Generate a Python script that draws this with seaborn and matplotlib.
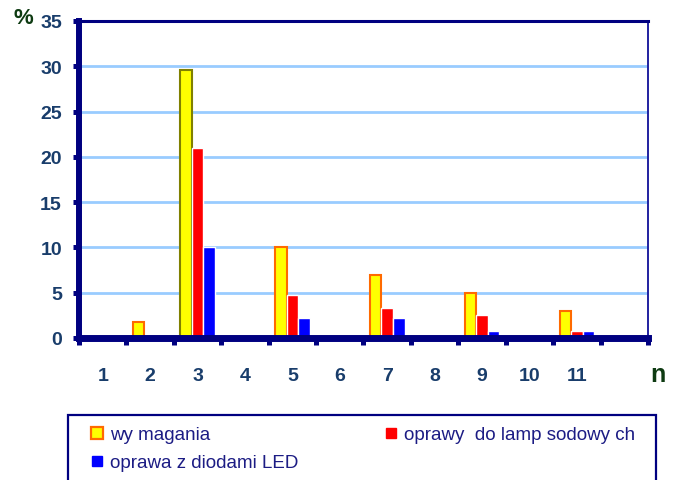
import matplotlib
matplotlib.use("Agg")
import matplotlib.pyplot as plt
from matplotlib.patches import Rectangle
from matplotlib.lines import Line2D
import seaborn as sns
import pandas as pd

# Share of observations (%) for each n, per series
categories = ["1", "2", "3", "4", "5", "6", "7", "8", "9", "10", "11"]
series_names = ["wy magania", "oprawy  do lamp sodowy ch", "oprawa z diodami LED"]
wymagania = [0, 1.8, 29.6, 0, 10.0, 0, 7.0, 0, 5.0, 0, 3.0]
sodowe = [0, 0, 21.0, 0, 4.8, 0, 3.3, 0, 2.5, 0, 0.8]
led = [0, 0, 10.0, 0, 2.2, 0, 2.2, 0, 0.8, 0, 0.8]
y_ticks = [0, 5, 10, 15, 20, 25, 30, 35]

navy = "#000080"
label_blue = "#193D6B"
dark_green = "#0E3B12"
bar_colors = ["#FFFF00", "#FF0000", "#0000FF"]

rows = []
for name, vals in zip(series_names, [wymagania, sodowe, led]):
    for c, v in zip(categories, vals):
        rows.append({"n": c, "pct": v, "seria": name})
df = pd.DataFrame(rows)

plt.rcParams["font.family"] = ["Liberation Sans", "DejaVu Sans"]

fig = plt.figure(figsize=(6.76, 4.81), dpi=100)
ax = fig.add_axes([79 / 676, 1 - 339 / 481, 569 / 676, 317 / 481])

sns.barplot(data=df, x="n", y="pct", hue="seria", order=categories,
            hue_order=series_names, palette=bar_colors, saturation=1,
            width=0.73, edgecolor="white", linewidth=1.0, legend=False, ax=ax)

# outline the requirement bars
for i, bar in enumerate(ax.containers[0]):
    bar.set_edgecolor("#808000" if i == 2 else "#FF6A00")
    bar.set_linewidth(1.5)

ax.set_xlim(-0.5, 11.5)
ax.set_ylim(0, 35)
ax.set_yticks(y_ticks)
ax.set_axisbelow(True)
ax.yaxis.grid(True, color="#99CCFF", linewidth=2.0)
ax.xaxis.grid(False)
ax.set_facecolor("white")

for side in ["left", "bottom", "top", "right"]:
    ax.spines[side].set_visible(True)
    ax.spines[side].set_color(navy)
ax.spines["left"].set_linewidth(4.3)
ax.spines["bottom"].set_linewidth(5.0)
ax.spines["top"].set_linewidth(2.2)
ax.spines["right"].set_linewidth(1.4)
ax.spines["right"].set_color("#2020A0")

ax.tick_params(axis="y", length=4.3, width=3.6, color=navy, pad=8,
               labelsize=14, labelcolor=label_blue)
ax.set_xticks(range(len(categories)))
ax.set_xticklabels(categories)
ax.set_xticks([x - 0.5 for x in range(len(categories) + 2)], minor=True)
ax.tick_params(axis="x", which="major", length=0, pad=21,
               labelsize=14, labelcolor=label_blue)
ax.tick_params(axis="x", which="minor", length=4.7, width=3.6, color=navy)
for lab in ax.get_xticklabels() + ax.get_yticklabels():
    lab.set_fontweight("bold")

ax.set_xlabel("")
ax.set_ylabel("")
fig.text(23.5 / 676, 1 - 19 / 481, "%", ha="center", va="center",
         fontsize=16, fontweight="bold", color=dark_green)
fig.text(658 / 676, 1 - 375 / 481, "n", ha="center", va="center",
         fontsize=18, fontweight="bold", color=dark_green)

# legend panel below the plot
fig.add_artist(Rectangle((68 / 676, -0.05), (656 - 68) / 676, 1 - 416 / 481 + 0.05,
                         transform=fig.transFigure, fill=False,
                         edgecolor=navy, linewidth=1.6, clip_on=False))
handles = [
    Line2D([], [], linestyle="none", marker="s", markersize=8.5,
           markerfacecolor=bar_colors[0], markeredgecolor="#FF6A00", markeredgewidth=1.6),
    Line2D([], [], linestyle="none", marker="s", markersize=6.5,
           markerfacecolor=bar_colors[2], markeredgecolor=bar_colors[2]),
    Line2D([], [], linestyle="none", marker="s", markersize=6.5,
           markerfacecolor=bar_colors[1], markeredgecolor=bar_colors[1]),
]
labels = [series_names[0], series_names[2], series_names[1]]
fig.legend(handles, labels, loc="upper left",
           bbox_to_anchor=(90 / 676, 1 - 427 / 481), ncol=2, frameon=False,
           fontsize=13.5, labelcolor="#1C1C84", handlelength=0.7,
           handletextpad=0.35, columnspacing=4.6, labelspacing=0.58,
           borderpad=0, borderaxespad=0)

fig.savefig("out.png", dpi=100, facecolor="white")
